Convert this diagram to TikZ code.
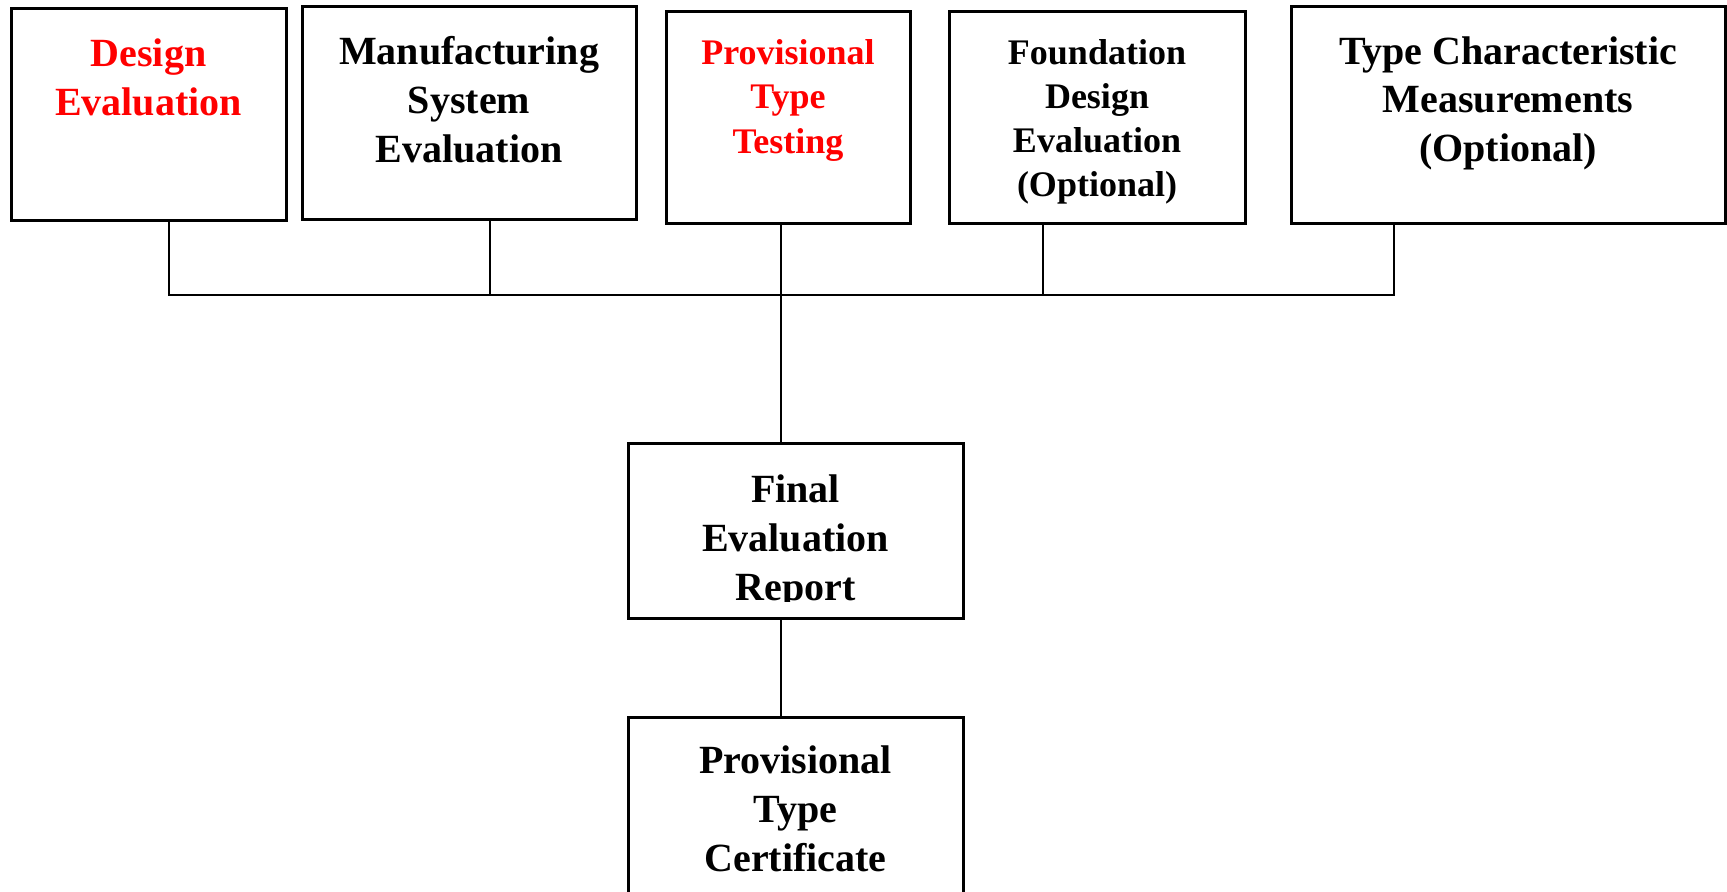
\documentclass[tikz,border=0pt]{standalone}
\usepackage{fontspec}
\setmainfont{Liberation Serif}
\begin{document}
\begin{tikzpicture}[x=0.5pt,y=-0.5pt,
  box/.style={draw=black, line width=1.5pt, rectangle, inner sep=0pt},
  big/.style={font=\bfseries\fontsize{20}{24.5}\selectfont, align=center, anchor=base, inner sep=0pt},
  small/.style={font=\bfseries\fontsize{18}{22.2}\selectfont, align=center, anchor=base, inner sep=0pt},
  wire/.style={line width=1.1pt, line cap=rect}]
\clip (0,0) rectangle (1727,892);
% boxes
\node[box, minimum width=137.5pt, minimum height=106pt] (des) at (148.5,115) {};
\node[box, minimum width=167pt, minimum height=106.5pt] (man) at (469,113.5) {};
\node[box, minimum width=122pt, minimum height=106pt] (ptt) at (788,118) {};
\node[box, minimum width=148pt, minimum height=106pt] (fnd) at (1097,118) {};
\node[box, minimum width=217pt, minimum height=108.5pt] (tcm) at (1508,115.5) {};
\node[box, minimum width=167.5pt, minimum height=87pt] (fin) at (795.5,531) {};
\node[box, minimum width=167.5pt, minimum height=121.5pt] (cer) at (795.5,838.5) {};
% texts (anchor=base is the baseline of the last line)
\node[big, text=red] (desT) at (148.5,115.7) {Design\\Evaluation};
\node[big] (manT) at (469,162.7) {Manufacturing\\System\\Evaluation};
\node[small, text=red, font=\bfseries\fontsize{18}{22.25}\selectfont] (pttT) at (788,153.3) {Provisional\\Type\\Testing};
\node[small, font=\bfseries\fontsize{18}{22}\selectfont] (fndT) at (1097,196.7) {Foundation\\Design\\Evaluation\\(Optional)};
\node[big, font=\bfseries\fontsize{20}{24.35}\selectfont] (tcmT) at (1508,161.7) {Type Characteristic\\Measurements\\(Optional)};
\coordinate (clipR) at (963,601);
\begin{scope}
\clip (fin.north west) rectangle (clipR);
\node[big] (finT) at (795.5,600) {Final\\Evaluation\\Report};
\end{scope}
\node[big] (cerT) at (795.5,871.7) {Provisional\\Type\\Certificate};
% connectors
\coordinate (b1) at (169,295);
\coordinate (b2) at (490,295);
\coordinate (b3) at (781,295);
\coordinate (b4) at (1043,295);
\coordinate (b5) at (1394,295);
\draw[wire] (des.south -| b1) -- (b1) -- (b5) -- (tcm.south -| b5);
\draw[wire] (man.south -| b2) -- (b2);
\draw[wire] (fnd.south -| b4) -- (b4);
\draw[wire] (ptt.south -| b3) -- (fin.north -| b3);
\draw[wire] (fin.south -| b3) -- (cer.north -| b3);
\end{tikzpicture}
\end{document}
